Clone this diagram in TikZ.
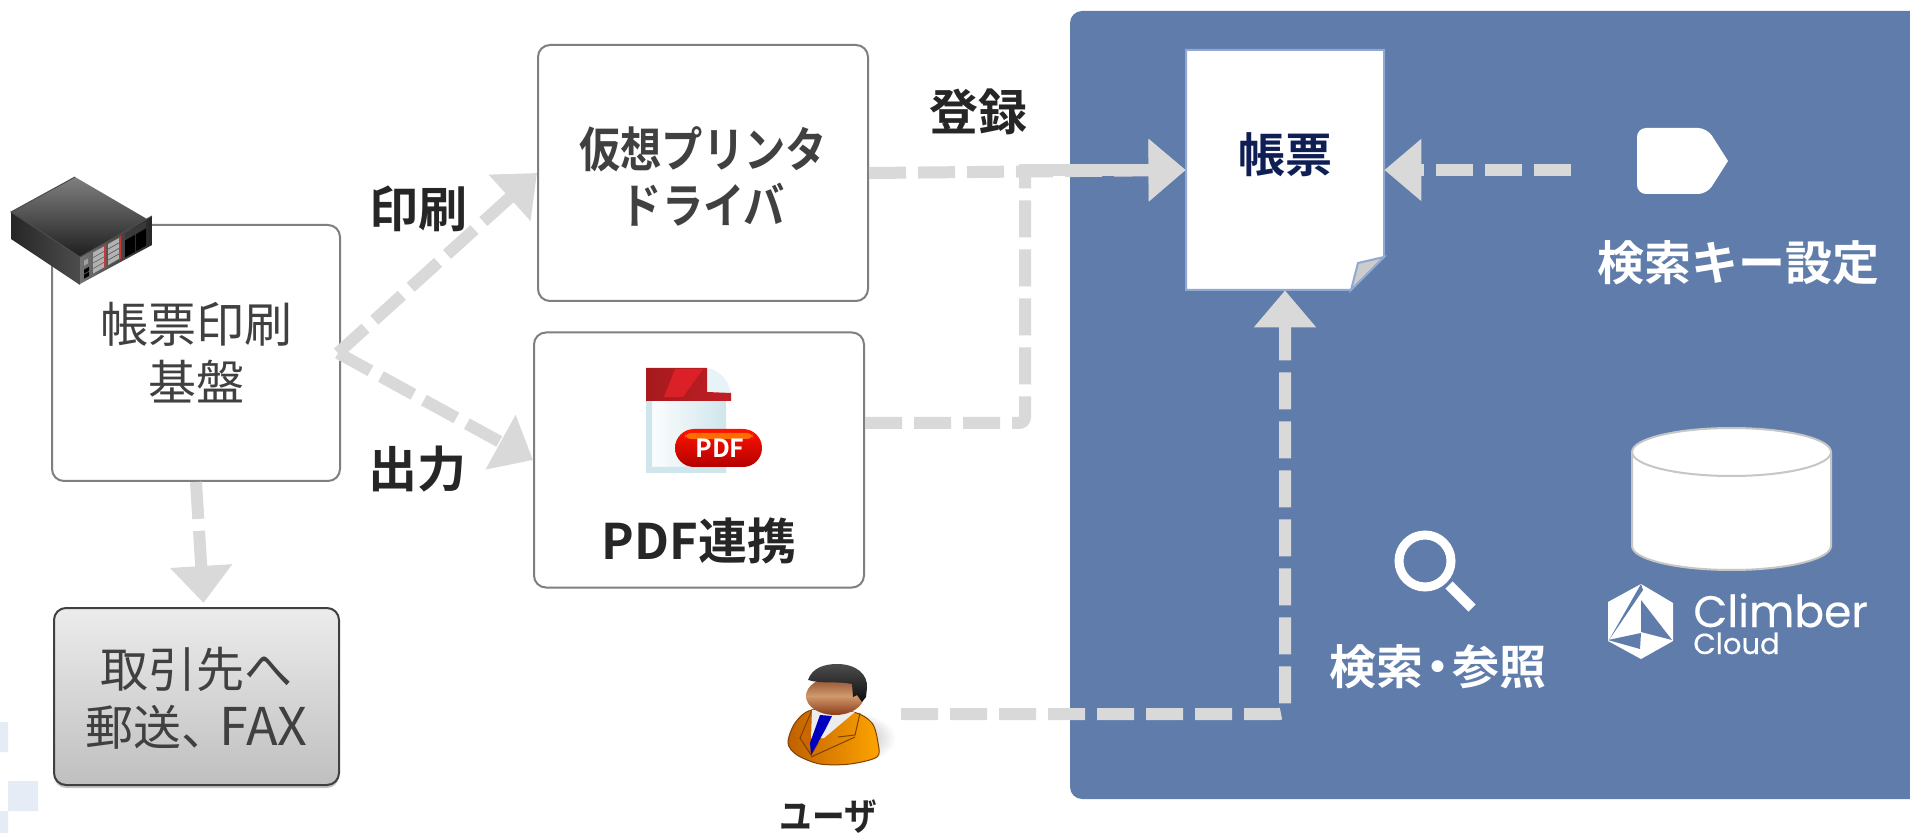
\documentclass[tikz,border=0pt]{standalone}
\usepackage{fontspec}
\setmainfont{Noto Sans CJK JP}
\newfontfamily\jp{Noto Sans CJK JP}[BoldFont={Noto Sans CJK JP Bold}]
\newfontfamily\jpk{Noto Sans CJK JP}[BoldFont={Noto Sans CJK JP Bold},FakeStretch=0.86]
\newfontfamily\logofont{Poppins}[FakeBold=0.4]
\usetikzlibrary{arrows.meta,shadows,calc}
\definecolor{panelblue}{HTML}{5F7CAB}
\definecolor{conngray}{HTML}{D9D9D9}
\definecolor{boxline}{HTML}{7F7F7F}
\definecolor{inkdark}{HTML}{262626}
\definecolor{inkgray}{HTML}{404040}
\definecolor{navy}{HTML}{0F1F55}
\definecolor{docline}{HTML}{8FA8D4}
\definecolor{paleblue}{HTML}{E6ECF6}
\tikzset{
  px/.style={x=0.5pt,y=-0.5pt},
  whitebox/.style={draw=boxline,line width=1pt,fill=white,rounded corners=6pt,inner sep=0pt,align=center},
  connline/.style={draw=conngray,line width=6pt,dash pattern=on 18.5pt off 6pt},
  conn/.style={connline,-{Triangle[length=18.5pt,width=30pt,fill=conngray]}},
  lab/.style={inner sep=0pt,align=center,font=\jp\bfseries\fontsize{24.5}{29}\selectfont,text=inkdark},
  whitelab/.style={inner sep=0pt,align=center,font=\jp\bfseries\fontsize{23.5}{29}\selectfont,text=white},
  reglab/.style={font=\jp\fontsize{24}{29}\selectfont,text=inkgray},
}
\begin{document}
\begin{tikzpicture}[px]
\useasboundingbox (0,0) rectangle (1910,833);
\fill[white] (0,0) rectangle (1910,833);
% pale background squares
\fill[paleblue] (0,722) rectangle (8,752) (8,781) rectangle (38,811) (0,811) rectangle (8,833);
% panel
\fill[panelblue] (1910,11) [rounded corners=6pt] -- (1070,11) -- (1070,799) [sharp corners] -- (1910,799) -- cycle;

% boxes
\node[whitebox,minimum width=144pt,minimum height=128pt] (base) at (196,353) {};
\node[reglab,inner sep=0pt,align=center] (basetext) at (196,353) {帳票印刷\\基盤};
\node[whitebox,minimum width=165pt,minimum height=128pt] (driver) at (703,173) {};
\node[inner sep=0pt,align=center,font=\jpk\bfseries\fontsize{24}{28}\selectfont,text=inkgray] (drivertext) at (703,176) {仮想プリンタ\\ドライバ};
\node[whitebox,minimum width=165pt,minimum height=127.5pt] (pdf) at (699,460) {};
\node[lab] (pdftext) at (699,541) {PDF連携};
\node[draw=inkgray,line width=1pt,rounded corners=6pt,top color=gray!15,bottom color=gray!50,
  minimum width=142.5pt,minimum height=88.5pt,inner sep=0pt,
  drop shadow={opacity=.45,shadow xshift=0pt,shadow yshift=-1.5pt}] (fax) at (196.5,696.5) {};
\node[reglab,inner sep=0pt,align=center] (faxtext) at (196.5,698) {取引先へ\\郵送、\kern-.2em{\fontsize{26}{29}\selectfont FAX}};

% document
\node[inner sep=0pt,minimum width=99pt,minimum height=120pt] (doc) at (1285,170) {};
\fill[white,draw=docline,line width=1pt] (1186,50) -- (1384,50) -- (1384,257) -- (1351,290) -- (1186,290) -- cycle;
\fill[gray!40,draw=docline,line width=1pt] (1384,257) -- (1358,263) -- (1351,290) -- cycle;
\node[inner sep=0pt,font=\jp\bfseries\fontsize{23.5}{28}\selectfont,text=navy] (doctext) at (1285,155) {帳票};

% connector anchors
\coordinate (jn1) at (1025,423);
\coordinate (jn2) at (1025,170);
\coordinate (keyout) at (1571,170);
\coordinate (userout) at (901,714);
\coordinate (jn3) at (1285,714);

% connectors
\draw[conn] ([xshift=-1.5pt]base.east) -- (driver.west);
\draw[conn] ([xshift=-1.5pt]base.east) -- (pdf.west);
\draw[conn] (base.south) -- ([xshift=3.5pt,yshift=2pt]fax.north);
\draw[conn] (driver.east) -- (doc.west);
\draw[connline,rounded corners=3pt] ([yshift=18.5pt]pdf.east) -- (jn1) -- (jn2);
\draw[conn,solid] ([xshift=-3pt]jn2) -- (doc.west);
\draw[conn] (keyout) -- (doc.east);
\draw[conn,rounded corners=3pt] (userout) -- (jn3) -- (doc.south);

% labels
\node[lab] (reg) at (978,112) {登録};
\node[lab] (print) at (418,209) {印刷};
\node[lab] (out) at (417,469) {出力};
\node[lab,font=\jpk\bfseries\fontsize{19}{24}\selectfont] (user) at (828.5,817) {ユーザ};
\node[whitelab] (keytext) at (1738,263) {検索キー設定};
\node[whitelab] (searchtext) at (1438,667) {検索\kern-.19em・\kern-.19em参照};

% tag icon
\fill[white,rounded corners=4.5pt] (1637,128) -- (1707,128) [sharp corners] -- (1728,161) [rounded corners=4.5pt] -- (1707,194) -- (1637,194) -- cycle;
% magnifier
\draw[white,line width=4.5pt] (1425,561) circle (26);
\draw[white,line width=5pt] (1449,585) -- (1472,608);
% cylinder
\filldraw[fill=white,draw=gray!45,line width=1pt] (1632,452) arc[x radius=99.5,y radius=24,start angle=180,end angle=360] -- (1831,546) arc[x radius=99.5,y radius=24,start angle=0,end angle=180] -- cycle;
\draw[gray!45,line width=1pt] (1632,452) arc[x radius=99.5,y radius=24,start angle=180,end angle=0];
% climber logo
\fill[white] (1641,584) -- (1673,603) -- (1673,641) -- (1641,659) -- (1608,641) -- (1608,602) -- cycle;
\fill[panelblue] (1641,600) -- (1672,640) -- (1641,632) -- cycle;
\fill[panelblue] (1608,640) -- (1641,633) -- (1640,649) -- cycle;
\fill[panelblue] (1641,584) -- (1609,640) -- (1643,590) -- cycle;
\node[inner sep=0pt,anchor=base west,font=\logofont\fontsize{22}{26}\selectfont,text=white] (climber) at (1693,627) {Climber};
\node[inner sep=0pt,anchor=base west,font=\logofont\fontsize{14.5}{18}\selectfont,text=white] (cloud) at (1693,654) {Cloud};

% PDF icon
\definecolor{pagecyan}{HTML}{CFE6EC}
\definecolor{headdark}{HTML}{A51A1E}
\definecolor{headmid}{HTML}{C01F24}
\definecolor{headlight}{HTML}{DC2027}
\shade[left color=white,right color=pagecyan] (646,400) rectangle (726,473);
\fill[pagecyan] (646,400) -- (652,400) -- (652,467) -- (726,467) -- (726,473) -- (646,473) -- cycle;
\fill[pagecyan!50!white] (707,368) .. controls (720,370) and (728,380) .. (731,393) -- (707,392) -- cycle;
\shade[left color=headdark,right color=headmid] (646,368) -- (707,368) -- (707,392) -- (731,393) -- (731,401) -- (646,401) -- cycle;
\fill[headlight] (675,369) -- (703,369) -- (683,397) -- (664,397) -- cycle;
\shade[top color=red!85!orange,bottom color=red!70!black,rounded corners=9.5pt] (675,429) rectangle (762,467);
\fill[orange!85!red,rounded corners=3pt] (685,433) rectangle (753,439);
\node[inner sep=0pt,font=\jp\bfseries\fontsize{12.5}{14}\selectfont,text=white] (pdfbadge) at (720,448) {PDF};

% server icon
\shade[left color=black!85,right color=black!70] (11,212) -- (80,257) -- (80,285) -- (11,239) -- cycle;
\shade[left color=black!55,right color=black!85] (80,257) -- (147,219) -- (152,216) -- (152,245) -- (80,284) -- cycle;
\shade[top color=black!50,bottom color=black!88] (75,177) -- (11,212) -- (80,257) -- (147,219) -- cycle;
\draw[black!70,line width=.5pt] (75,177) -- (11,212) -- (80,257) -- (152,216);
\begin{scope}[cm={1,0.567,0,1,(80,257)}]
  \foreach \r in {0,1,2,3} {
    \fill[gray!60] (13,3+\r*5.5) rectangle (24,7.5+\r*5.5);
    \fill[gray!60] (28,3+\r*5.5) rectangle (39,7.5+\r*5.5);
  }
  \fill[red!55!gray] (24,2) rectangle (26,25);
  \fill[red!55!gray] (39,2) rectangle (41,25);
  \fill[gray!45!black] (45,2) rectangle (66,8);
  \fill[black] (45,9) rectangle (55,26) (56,9) rectangle (66,26);
  \fill[gray!75] (4,6) rectangle (8,11);
  \fill[black] (4,15) rectangle (9,19) (4,20) rectangle (9,24);
\end{scope}

% user icon
\definecolor{facetop}{HTML}{8A4B2A}
\definecolor{facemid}{HTML}{D0996C}
\definecolor{facebot}{HTML}{8B3A14}
\shade[inner color=gray!85,outer color=white] (840,738) ellipse [x radius=56,y radius=28];
\shade[left color=orange!75!black,right color=orange!70!yellow,draw=orange!50!black,line width=.5pt]
  plot[smooth cycle,tension=.5] coordinates {(788,743) (795,723) (812,710) (853,712) (872,723) (878,743) (877,757) (850,764) (820,764) (797,755)};
\draw[orange!50!black,line width=.5pt,fill=orange!80!black] (812,710) -- (800,738) -- (811,755) -- (818,743) -- cycle;
\fill[gray!15] (812,710) -- (855,712) -- (824,738) -- (811,738) -- cycle;
\draw[orange!50!black,line width=.5pt] (860,713) -- (855,735) -- (838,737) (855,737) -- (811,757);
\fill[blue!75!black] (820,715) -- (832,716) -- (825,730) -- (811,755) -- (810,743) -- cycle;
\shade[top color=facetop,bottom color=facebot,middle color=facemid] (835,696) ellipse [x radius=29,y radius=19];
\shade[top color=black!70,bottom color=black!95] (808,680) .. controls (812,668) and (824,664) .. (837,664) .. controls (856,664) and (868,674) .. (867,688) -- (866,697) -- (862,702) -- (857,695) -- (853,697) -- (852,684) .. controls (840,681) and (820,684) .. (808,680) -- cycle;
\end{tikzpicture}
\end{document}
